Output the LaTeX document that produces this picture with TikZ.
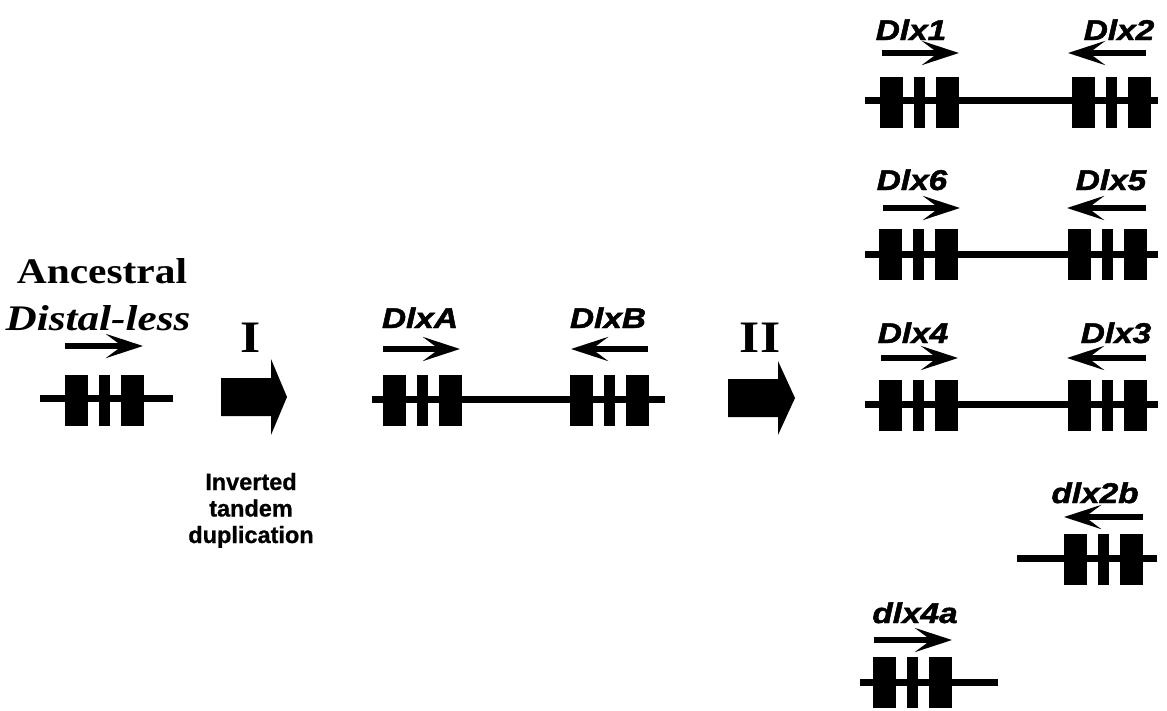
\documentclass[tikz,border=0pt]{standalone}
\usepackage{fontspec}
\setmainfont{Liberation Serif}
\newfontfamily\arialfont{Liberation Sans}[BoldItalicFeatures={FakeBold=1.6}, BoldFeatures={FakeBold=0.8}]
\usetikzlibrary{arrows.meta}
\newcommand\sx[1]{\scalebox{1.17}[1]{#1}}
\newcommand\sxs[1]{\scalebox{1.15}[1]{#1}}
\newcommand\sxd[1]{\scalebox{1.2}[1]{#1}}
\tikzset{
  gline/.style={line width=7pt},
  exonbig/.style={fill=black, inner sep=0pt, outer sep=0pt, minimum width=23pt, minimum height=51pt},
  exonsmall/.style={fill=black, inner sep=0pt, outer sep=0pt, minimum width=11pt, minimum height=51pt},
  garrow/.style={line width=6.5pt, -{Stealth[length=37pt,width=24pt,inset=16pt]}},
  glabel/.style={font=\arialfont\bfseries\itshape\fontsize{28.5}{30}\selectfont, anchor=base, inner sep=0pt},
  dlabel/.style={font=\arialfont\bfseries\fontsize{23.5}{26}\selectfont, anchor=base, inner sep=0pt},
  serlabel/.style={font=\bfseries\fontsize{36}{38}\selectfont, anchor=base, inner sep=0pt},
  roman/.style={font=\bfseries\fontsize{45}{45}\selectfont, anchor=base, inner sep=0pt},
  bigarrow/.style={fill=black}
}
\newcommand\cluster[3]{%
  \node[exonbig] (#1a) at ({#2+11.5},#3) {};
  \node[exonsmall] (#1b) at ({#2+39.5},#3) {};
  \node[exonbig] (#1c) at ({#2+67.5},#3) {};
}
\begin{document}
\begin{tikzpicture}[x=1pt,y=-1pt]
\useasboundingbox (0,0) rectangle (1167,710);
\fill[white] (0,0) rectangle (1167,710);

% ---------- Ancestral ----------
\node[serlabel] (anc) at (102,283) {\sxs{Ancestral}};
\node[serlabel] (dll) at (98,330) {\sxd{\textit{Distal-less}}};
\coordinate (g0s) at (40,398); \coordinate (g0e) at (173,398);
\draw[gline] (g0s) -- (g0e);
\cluster{e0}{65}{400}
\coordinate (a0s) at (65,346); \coordinate (a0e) at (143,346);
\draw[garrow] (a0s) -- (a0e);

% ---------- Step I ----------
\node[roman] (stepI) at (251,352) {\sxs{I}};
\fill[bigarrow] (221,378) -- (271,378) -- (271,359) -- (287,397) -- (271,435) -- (271,416) -- (221,416) -- cycle;
\node[dlabel] (inv1) at (251,490) {Inverted};
\node[dlabel] (inv2) at (251,516.5) {tandem};
\node[dlabel] (inv3) at (251,543) {duplication};

% ---------- DlxA / DlxB ----------
\node[glabel] (dlxA) at (420,328) {\sx{DlxA}};
\node[glabel] (dlxB) at (608,328) {\sx{DlxB}};
\coordinate (g1s) at (372,399); \coordinate (g1e) at (665,399);
\draw[gline] (g1s) -- (g1e);
\cluster{e1}{383}{400}
\cluster{e2}{570}{400}
\coordinate (a1s) at (383,349); \coordinate (a1e) at (460,349);
\draw[garrow] (a1s) -- (a1e);
\coordinate (a2s) at (648,349); \coordinate (a2e) at (571,349);
\draw[garrow] (a2s) -- (a2e);

% ---------- Step II ----------
\node[roman] (stepII) at (760,352) {\sxs{II}};
\fill[bigarrow] (728,379) -- (778,379) -- (778,361) -- (795,398) -- (778,435) -- (778,417) -- (728,417) -- cycle;

% ---------- Dlx1 / Dlx2 ----------
\node[glabel] (dlx1) at (911,40) {\sx{Dlx1}};
\node[glabel] (dlx2) at (1119,40) {\sx{Dlx2}};
\coordinate (g2s) at (865,100); \coordinate (g2e) at (1158,100);
\draw[gline] (g2s) -- (g2e);
\cluster{e3}{880}{102}
\cluster{e4}{1072}{102}
\coordinate (a3s) at (882,53); \coordinate (a3e) at (959,53);
\draw[garrow] (a3s) -- (a3e);
\coordinate (a4s) at (1146,53); \coordinate (a4e) at (1068,53);
\draw[garrow] (a4s) -- (a4e);

% ---------- Dlx6 / Dlx5 ----------
\node[glabel] (dlx6) at (912,190) {\sx{Dlx6}};
\node[glabel] (dlx5) at (1111,190) {\sx{Dlx5}};
\coordinate (g3s) at (865,254); \coordinate (g3e) at (1158,254);
\draw[gline] (g3s) -- (g3e);
\cluster{e5}{879}{254}
\cluster{e6}{1068}{254}
\coordinate (a5s) at (883,208); \coordinate (a5e) at (960,208);
\draw[garrow] (a5s) -- (a5e);
\coordinate (a6s) at (1146,208); \coordinate (a6e) at (1067,208);
\draw[garrow] (a6s) -- (a6e);

% ---------- Dlx4 / Dlx3 ----------
\node[glabel] (dlx4) at (913,343) {\sx{Dlx4}};
\node[glabel] (dlx3) at (1116,343) {\sx{Dlx3}};
\coordinate (g4s) at (865,404); \coordinate (g4e) at (1158,404);
\draw[gline] (g4s) -- (g4e);
\cluster{e7}{879}{405}
\cluster{e8}{1068}{405}
\coordinate (a7s) at (881,358); \coordinate (a7e) at (958,358);
\draw[garrow] (a7s) -- (a7e);
\coordinate (a8s) at (1146,358); \coordinate (a8e) at (1067,358);
\draw[garrow] (a8s) -- (a8e);

% ---------- dlx2b ----------
\node[glabel] (dlx2b) at (1095,503) {\sx{dlx2b}};
\coordinate (g5s) at (1017,558); \coordinate (g5e) at (1157,558);
\draw[gline] (g5s) -- (g5e);
\cluster{e9}{1064}{559}
\coordinate (a9s) at (1143,517); \coordinate (a9e) at (1064,517);
\draw[garrow] (a9s) -- (a9e);

% ---------- dlx4a ----------
\node[glabel] (dlx4a) at (915,623) {\sx{dlx4a}};
\coordinate (g6s) at (860,682); \coordinate (g6e) at (998,682);
\draw[gline] (g6s) -- (g6e);
\cluster{e10}{873}{682}
\coordinate (a10s) at (874,640); \coordinate (a10e) at (952,640);
\draw[garrow] (a10s) -- (a10e);
\end{tikzpicture}
\end{document}
